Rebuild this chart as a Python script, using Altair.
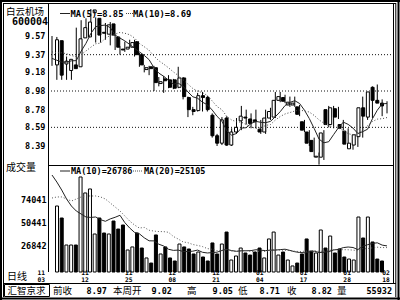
import altair as alt
import pandas as pd

# ---------------- data ----------------
opens = [9.26, 9.52, 9.27, 9.20, 9.26, 9.24, 9.55, 9.56, 9.82, 9.76,
         9.61, 9.59, 9.70, 9.56, 9.43, 9.43, 9.45, 9.51, 9.37, 9.21,
         9.24, 9.23, 9.06, 9.11, 9.10, 9.10, 9.02, 9.12, 8.91, 8.78,
         8.77, 8.93, 8.91, 8.72, 8.50, 8.42, 8.69, 8.40, 8.54, 8.66,
         8.70, 8.68, 8.67, 8.57, 8.54, 8.69, 8.70, 8.88, 8.91, 8.83,
         8.83, 8.81, 8.65, 8.54, 8.45, 8.27, 8.27, 8.78, 8.62, 8.79,
         8.62, 8.55, 8.36, 8.40, 8.49, 8.80, 8.70, 9.02, 8.88, 8.85]
highs = [9.57, 9.56, 9.33, 9.35, 9.29, 9.66, 9.74, 9.76, 9.86, 9.77,
         9.70, 9.71, 9.72, 9.58, 9.46, 9.51, 9.53, 9.53, 9.39, 9.26,
         9.25, 9.25, 9.13, 9.14, 9.15, 9.11, 9.24, 9.13, 8.92, 8.81,
         8.96, 8.97, 8.93, 8.74, 8.52, 8.70, 8.71, 8.58, 8.69, 8.82,
         8.78, 8.74, 8.78, 8.67, 8.78, 8.80, 8.97, 8.97, 8.94, 8.92,
         8.92, 8.83, 8.67, 8.56, 8.48, 8.32, 8.56, 8.82, 8.82, 8.81,
         8.67, 8.58, 8.45, 8.56, 8.92, 8.88, 9.03, 9.05, 8.89, 8.87]
lows = [9.25, 9.10, 9.10, 9.10, 9.10, 9.23, 9.50, 9.55, 9.71, 9.50,
        9.50, 9.53, 9.47, 9.42, 9.37, 9.40, 9.44, 9.35, 9.24, 9.18,
        9.15, 8.98, 9.03, 8.96, 9.01, 9.00, 9.01, 8.89, 8.70, 8.72,
        8.76, 8.76, 8.76, 8.48, 8.39, 8.40, 8.39, 8.39, 8.52, 8.56,
        8.62, 8.58, 8.58, 8.52, 8.52, 8.67, 8.69, 8.86, 8.85, 8.81,
        8.81, 8.71, 8.54, 8.39, 8.27, 8.19, 8.24, 8.59, 8.58, 8.68,
        8.56, 8.38, 8.35, 8.38, 8.48, 8.67, 8.69, 8.87, 8.71, 8.74]
closes = [9.53, 9.15, 9.30, 9.32, 9.22, 9.54, 9.66, 9.72, 9.85, 9.58,
          9.60, 9.69, 9.58, 9.45, 9.42, 9.45, 9.50, 9.37, 9.26, 9.23,
          9.22, 9.07, 9.08, 9.09, 9.02, 9.01, 9.12, 8.92, 8.78, 8.76,
          8.93, 8.91, 8.78, 8.50, 8.42, 8.67, 8.40, 8.54, 8.59, 8.71,
          8.69, 8.63, 8.65, 8.54, 8.69, 8.76, 8.88, 8.92, 8.87, 8.86,
          8.85, 8.73, 8.56, 8.42, 8.33, 8.28, 8.53, 8.62, 8.80, 8.70,
          8.58, 8.41, 8.42, 8.51, 8.80, 8.71, 8.97, 8.88, 8.85, 8.82]
volumes = [67700, 55400, 27700, 27700, 27700, 97500, 81100, 85200, 39000, 55400,
           40000, 39000, 52300, 44100, 48200, 22600, 25700, 40000, 24600, 14400,
           9200, 38000, 18500, 25700, 14400, 11300, 28700, 25700, 23600, 18500,
           20500, 15400, 11300, 29800, 18500, 28700, 41000, 12300, 16400, 24600,
           19500, 17400, 20500, 24600, 14400, 33900, 41000, 17400, 20500, 12300,
           6200, 9200, 18500, 33900, 21500, 19500, 43100, 24600, 36900, 19500,
           23600, 15400, 13300, 12300, 56400, 34900, 56400, 30800, 13300, 11300]

# moving-average values at the left edge (their windows start before the chart)
ma5_head = [9.33, 9.31, 9.29, 9.29]
ma10_head = [9.40, 9.39, 9.39, 9.38, 9.36, 9.35, 9.37, 9.41, 9.45]
vma10_head = [99500, 92300, 84100, 74900, 67700, 62600, 59500, 56400, 56000]
vma20_head = [75900, 77000, 77000, 74900, 72800, 74900, 77000, 78000, 78000, 78000,
              77000, 74900, 70800, 66700, 62600, 57500, 52300, 48200, 45100]

price_ticks = [9.57, 9.37, 9.18, 8.98, 8.78, 8.59, 8.39]
price_grid = [9.37, 8.98, 8.59]
vol_ticks = [74041, 50441, 26842]

date_idx = [-2, 7, 16, 25, 34, 43, 52, 61, 69]
date_month = ["11", "11", "11", "12", "12", "01", "01", "01", "02"]
date_day = ["03", "12", "25", "08", "21", "04", "17", "28", "18"]


def moving(vals, n, head):
    out = list(head)
    for i in range(len(head), len(vals)):
        out.append(sum(vals[i - n + 1:i + 1]) / n)
    return out


df = pd.DataFrame({"idx": list(range(len(closes))), "open": opens, "high": highs,
                   "low": lows, "close": closes, "vol": volumes})
df["base"] = 0
df["ma5"] = moving(closes, 5, ma5_head)
df["ma10"] = moving(closes, 10, ma10_head)
df["vma10"] = moving(volumes, 10, vma10_head)
df["vma20"] = moving(volumes, 20, vma20_head)

MONO = "DejaVu Sans Mono"
CJK = "Noto Sans CJK SC"

XS = alt.Scale(domain=[0, 69], range=[52, 387], nice=False, zero=False)
PS = alt.Scale(domain=[8.186, 9.903], range=[165, 5], nice=False, zero=False)
VS = alt.Scale(domain=[0, 109782], range=[272, 165], nice=False, zero=False)

up_fill = alt.condition(alt.datum.close >= alt.datum.open, alt.value("white"), alt.value("black"))
X = alt.X("idx:Q", scale=XS, axis=None)
base = alt.Chart(df)

grid = alt.Chart(pd.DataFrame({"p": price_grid})).mark_rule(
    color="#111", strokeWidth=1, strokeDash=[1, 2]).encode(
    y=alt.Y("p:Q", scale=PS, axis=None), x=alt.value(48), x2=alt.value(393))

wick = base.mark_rule(color="black", strokeWidth=1).encode(
    x=X, y=alt.Y("low:Q", scale=PS, axis=None), y2="high:Q")
body = base.mark_bar(size=3, stroke="black", strokeWidth=1).encode(
    x=X, y=alt.Y("open:Q", scale=PS, axis=None), y2="close:Q", fill=up_fill)
ma5 = base.mark_line(color="#222", strokeWidth=1).encode(
    x=X, y=alt.Y("ma5:Q", scale=PS, axis=None))
ma10 = base.mark_line(color="#444", strokeWidth=1, strokeDash=[1, 2]).encode(
    x=X, y=alt.Y("ma10:Q", scale=PS, axis=None))

vbar = base.mark_bar(size=3, stroke="black", strokeWidth=1).encode(
    x=X, y=alt.Y("vol:Q", scale=VS, axis=None), y2="base:Q", fill=up_fill)
vma10 = base.mark_line(color="#222", strokeWidth=1).encode(
    x=X, y=alt.Y("vma10:Q", scale=VS, axis=None))
vma20 = base.mark_line(color="#555", strokeWidth=1, strokeDash=[1, 2]).encode(
    x=X, y=alt.Y("vma20:Q", scale=VS, axis=None))

ptxt = alt.Chart(pd.DataFrame({"p": price_ticks, "t": [f"{v:.2f}" for v in price_ticks]})).mark_text(
    align="right", baseline="middle", font=MONO, fontSize=8.5, fontWeight="bold").encode(
    y=alt.Y("p:Q", scale=PS, axis=None), x=alt.value(45.5), text="t:N")
vtxt = alt.Chart(pd.DataFrame({"v": vol_ticks, "t": [str(v) for v in vol_ticks]})).mark_text(
    align="right", baseline="middle", font=MONO, fontSize=8.5, fontWeight="bold").encode(
    y=alt.Y("v:Q", scale=VS, axis=None), x=alt.value(46.5), text="t:N")

dates = pd.DataFrame({"i": date_idx, "m": date_month, "d": date_day})
dm = alt.Chart(dates).mark_text(font=MONO, fontSize=6.3, fontWeight="bold", baseline="middle", dx=-1).encode(
    x=alt.X("i:Q", scale=XS, axis=None), y=alt.value(273.2), text="m:N")
dd = alt.Chart(dates).mark_text(font=MONO, fontSize=6.3, fontWeight="bold", baseline="middle", dx=-1).encode(
    x=alt.X("i:Q", scale=XS, axis=None), y=alt.value(279.6), text="d:N")

ONE = pd.DataFrame({"k": [0]})


def hline(x1, x2, y, w=1, dash=None, color="black"):
    kw = dict(color=color, strokeWidth=w)
    if dash:
        kw["strokeDash"] = dash
    return alt.Chart(ONE).mark_rule(**kw).encode(x=alt.value(x1), x2=alt.value(x2), y=alt.value(y))


def vline(x, y1, y2, w=1):
    return alt.Chart(ONE).mark_rule(color="black", strokeWidth=w).encode(
        x=alt.value(x), y=alt.value(y1), y2=alt.value(y2))


def label(text, x, y, size, font, align="left", weight="normal"):
    return alt.Chart(ONE).mark_text(text=text, align=align, baseline="middle", font=font,
                                    fontSize=size, fontWeight=weight, color="black").encode(
        x=alt.value(x), y=alt.value(y))


SB = 291  # status bar text line
decor = [
    # outer double frame
    hline(0, 400, 1, 2), vline(1, 0, 300, 2), hline(0, 400, 298.5, 2), vline(398.5, 0, 300, 2),
    hline(3, 396, 3.5), vline(3.5, 3, 297), vline(395.8, 3, 297),
    # plot frame and dividers
    vline(393.5, 3.5, 283.5), vline(48.5, 3.5, 272), hline(48, 393, 165.5), hline(3, 396, 283.5),
    alt.Chart(ONE).mark_rect(fillOpacity=0, stroke="black", strokeWidth=1).encode(
        x=alt.value(4.5), x2=alt.value(49.5), y=alt.value(284.5), y2=alt.value(296.5)),
    # titles & legends
    label("白云机场", 6, 11.5, 9.5, CJK),
    label("600004", 30, 22, 10, MONO, "center", "bold"),
    hline(60, 70, 13.5, 1, None, "#222"),
    label("MA(5)=8.85", 70.5, 13.5, 8.8, MONO, "left", "bold"),
    hline(126, 133, 13.5, 1, [1, 1], "#444"),
    label("MA(10)=8.69", 133, 13.5, 8.8, MONO, "left", "bold"),
    label("成交量", 6, 167.5, 10, CJK),
    hline(60, 70, 171, 1, None, "#222"),
    label("MA(10)=26786", 71, 171, 8.5, MONO, "left", "bold"),
    hline(133, 143, 171, 1, [1, 1], "#555"),
    label("MA(20)=25105", 144, 171, 8.5, MONO, "left", "bold"),
    label("日线", 7, 277, 10, CJK),
    # bottom status bar
    label("汇智京求", 7.5, SB, 9.5, CJK),
    label("前收", 53, SB, 9.5, CJK),
    label("8.97", 107, SB, 8.5, MONO, "right", "bold"),
    label("本周开", 113, SB, 9.5, CJK),
    label("9.02", 172, SB, 8.5, MONO, "right", "bold"),
    label("高", 187, SB, 9.5, CJK),
    label("9.05", 233, SB, 8.5, MONO, "right", "bold"),
    label("低", 238, SB, 9.5, CJK),
    label("8.71", 280, SB, 8.5, MONO, "right", "bold"),
    label("收", 287, SB, 9.5, CJK),
    label("8.82", 332, SB, 8.5, MONO, "right", "bold"),
    label("量", 337, SB, 9.5, CJK),
    label("55932", 392, SB, 8.5, MONO, "right", "bold"),
]

chart = alt.layer(
    grid, wick, body, ma5, ma10, vbar, vma10, vma20, ptxt, vtxt, dm, dd, *decor
).resolve_scale(x="independent", y="independent").properties(
    width=400, height=300, autosize=alt.AutoSizeParams(type="none"), padding=0,
    background="white"
).configure_view(stroke=None)

chart.save("out.html", embed_options={"renderer": "svg", "actions": False})
